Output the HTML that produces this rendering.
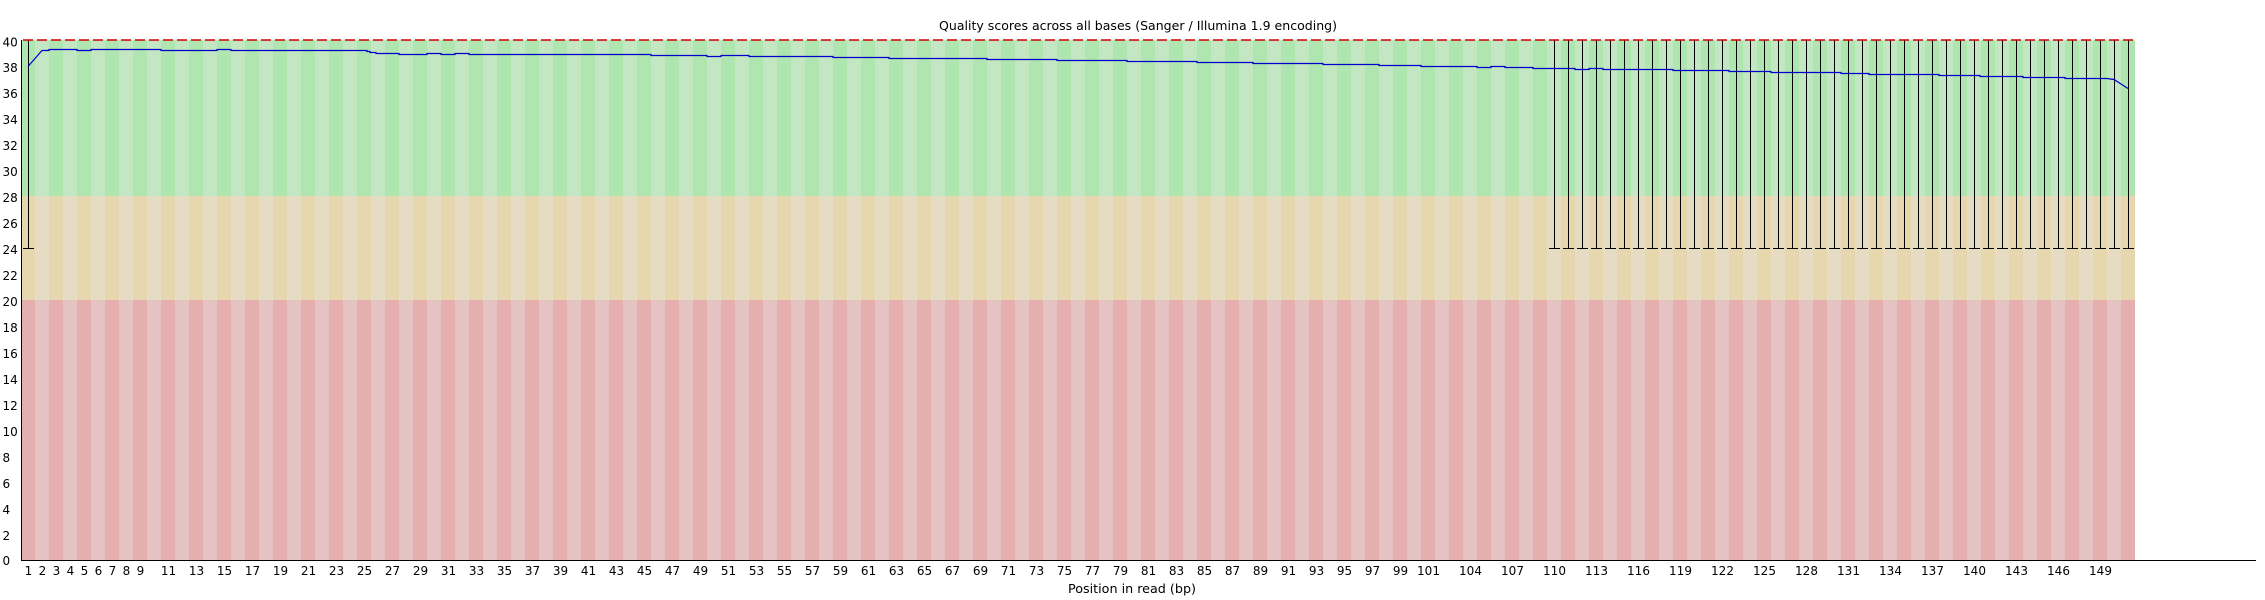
<!DOCTYPE html>
<html>
<head>
<meta charset="utf-8">
<style>
html,body{margin:0;padding:0;background:#fff;}
svg{display:block;}
text{font-family:"DejaVu Sans","Liberation Sans",sans-serif;fill:#000;}
</style>
</head>
<body>
<svg width="2265" height="600" viewBox="0 0 2265 600" xmlns="http://www.w3.org/2000/svg">
<defs>
<pattern id="pg" x="21" y="0" width="28" height="600" patternUnits="userSpaceOnUse">
<rect x="0" y="0" width="14" height="600" fill="rgb(175,230,175)"/>
<rect x="14" y="0" width="14" height="600" fill="rgb(195,230,195)"/>
</pattern>
<pattern id="po" x="21" y="0" width="28" height="600" patternUnits="userSpaceOnUse">
<rect x="0" y="0" width="14" height="600" fill="rgb(230,215,175)"/>
<rect x="14" y="0" width="14" height="600" fill="rgb(230,220,195)"/>
</pattern>
<pattern id="pr" x="21" y="0" width="28" height="600" patternUnits="userSpaceOnUse">
<rect x="0" y="0" width="14" height="600" fill="rgb(230,175,175)"/>
<rect x="14" y="0" width="14" height="600" fill="rgb(230,195,195)"/>
</pattern>
</defs>
<rect x="0" y="0" width="2265" height="600" fill="#fff"/>
<!-- bands -->
<rect x="21" y="40" width="2114" height="156" fill="url(#pg)"/>
<rect x="21" y="196" width="2114" height="104" fill="url(#po)"/>
<rect x="21" y="300" width="2114" height="260" fill="url(#pr)"/>

<!-- title -->
<text x="1138" y="30" font-size="12.5" text-anchor="middle" textLength="398" lengthAdjust="spacingAndGlyphs">Quality scores across all bases (Sanger / Illumina 1.9 encoding)</text>

<!-- error bars -->
<path fill="none" stroke="#000" stroke-width="1" d="
M28.5 40V248M23 248.5H34
M1554.5 40V248M1549 248.5H1560
M1568.5 40V248M1563 248.5H1574
M1582.5 40V248M1577 248.5H1588
M1596.5 40V248M1591 248.5H1602
M1610.5 40V248M1605 248.5H1616
M1624.5 40V248M1619 248.5H1630
M1638.5 40V248M1633 248.5H1644
M1652.5 40V248M1647 248.5H1658
M1666.5 40V248M1661 248.5H1672
M1680.5 40V248M1675 248.5H1686
M1694.5 40V248M1689 248.5H1700
M1708.5 40V248M1703 248.5H1714
M1722.5 40V248M1717 248.5H1728
M1736.5 40V248M1731 248.5H1742
M1750.5 40V248M1745 248.5H1756
M1764.5 40V248M1759 248.5H1770
M1778.5 40V248M1773 248.5H1784
M1792.5 40V248M1787 248.5H1798
M1806.5 40V248M1801 248.5H1812
M1820.5 40V248M1815 248.5H1826
M1834.5 40V248M1829 248.5H1840
M1848.5 40V248M1843 248.5H1854
M1862.5 40V248M1857 248.5H1868
M1876.5 40V248M1871 248.5H1882
M1890.5 40V248M1885 248.5H1896
M1904.5 40V248M1899 248.5H1910
M1918.5 40V248M1913 248.5H1924
M1932.5 40V248M1927 248.5H1938
M1946.5 40V248M1941 248.5H1952
M1960.5 40V248M1955 248.5H1966
M1974.5 40V248M1969 248.5H1980
M1988.5 40V248M1983 248.5H1994
M2002.5 40V248M1997 248.5H2008
M2016.5 40V248M2011 248.5H2022
M2030.5 40V248M2025 248.5H2036
M2044.5 40V248M2039 248.5H2050
M2058.5 40V248M2053 248.5H2064
M2072.5 40V248M2067 248.5H2078
M2086.5 40V248M2081 248.5H2092
M2100.5 40V248M2095 248.5H2106
M2114.5 40V248M2109 248.5H2120
M2128.5 40V248M2123 248.5H2134
"/>

<!-- red dashed top line -->
<line x1="23" y1="40" x2="2135" y2="40" stroke="rgb(210,0,0)" stroke-width="1.6" stroke-dasharray="10 4"/>

<!-- mean line -->
<path fill="none" stroke="rgb(0,0,205)" stroke-width="1.2" d="M28 66.5 L42 50.5 H49 V49.5 H77 V50.5 H91 V49.5 H161 V50.5 H217 V49.5 H231 V50.5 H367 V51.5 H370 V52.5 H376 V53.5 H399 V54.5 H427 V53.5 H441 V54.5 H455 V53.5 H469 V54.5 H651 V55.5 H707 V56.5 H721 V55.5 H749 V56.5 H833 V57.5 H889 V58.5 H987 V59.5 H1057 V60.5 H1127 V61.5 H1197 V62.5 H1253 V63.5 H1323 V64.5 H1379 V65.5 H1421 V66.5 H1477 V67.5 H1491 V66.5 H1505 V67.5 H1533 V68.5 H1575 V69.5 H1589 V68.5 H1603 V69.5 H1673 V70.5 H1729 V71.5 H1771 V72.5 H1841 V73.5 H1869 V74.5 H1939 V75.5 H1980 V76.5 H2023 V77.5 H2065 V78.5 H2107 L2114 79.5 L2128 88.5"/>

<!-- axes -->
<line x1="21.5" y1="40" x2="21.5" y2="561" stroke="#000" stroke-width="1"/>
<line x1="21" y1="560.5" x2="2256" y2="560.5" stroke="#000" stroke-width="1"/>

<!-- y labels -->
<g font-size="12">
<text x="2.5" y="46.5">40</text>
<text x="2.5" y="72">38</text>
<text x="2.5" y="98">36</text>
<text x="2.5" y="124">34</text>
<text x="2.5" y="150">32</text>
<text x="2.5" y="176">30</text>
<text x="2.5" y="202">28</text>
<text x="2.5" y="228">26</text>
<text x="2.5" y="254">24</text>
<text x="2.5" y="280">22</text>
<text x="2.5" y="306">20</text>
<text x="2.5" y="332">18</text>
<text x="2.5" y="358">16</text>
<text x="2.5" y="384">14</text>
<text x="2.5" y="410">12</text>
<text x="2.5" y="436">10</text>
<text x="2.5" y="462">8</text>
<text x="2.5" y="488">6</text>
<text x="2.5" y="514">4</text>
<text x="2.5" y="540">2</text>
<text x="2.5" y="565">0</text>
</g>

<!-- x labels -->
<g font-size="12" text-anchor="middle">
<text x="28.5" y="575">1</text>
<text x="42.5" y="575">2</text>
<text x="56.5" y="575">3</text>
<text x="70.5" y="575">4</text>
<text x="84.5" y="575">5</text>
<text x="98.5" y="575">6</text>
<text x="112.5" y="575">7</text>
<text x="126.5" y="575">8</text>
<text x="140.5" y="575">9</text>
<text x="168.5" y="575">11</text>
<text x="196.5" y="575">13</text>
<text x="224.5" y="575">15</text>
<text x="252.5" y="575">17</text>
<text x="280.5" y="575">19</text>
<text x="308.5" y="575">21</text>
<text x="336.5" y="575">23</text>
<text x="364.5" y="575">25</text>
<text x="392.5" y="575">27</text>
<text x="420.5" y="575">29</text>
<text x="448.5" y="575">31</text>
<text x="476.5" y="575">33</text>
<text x="504.5" y="575">35</text>
<text x="532.5" y="575">37</text>
<text x="560.5" y="575">39</text>
<text x="588.5" y="575">41</text>
<text x="616.5" y="575">43</text>
<text x="644.5" y="575">45</text>
<text x="672.5" y="575">47</text>
<text x="700.5" y="575">49</text>
<text x="728.5" y="575">51</text>
<text x="756.5" y="575">53</text>
<text x="784.5" y="575">55</text>
<text x="812.5" y="575">57</text>
<text x="840.5" y="575">59</text>
<text x="868.5" y="575">61</text>
<text x="896.5" y="575">63</text>
<text x="924.5" y="575">65</text>
<text x="952.5" y="575">67</text>
<text x="980.5" y="575">69</text>
<text x="1008.5" y="575">71</text>
<text x="1036.5" y="575">73</text>
<text x="1064.5" y="575">75</text>
<text x="1092.5" y="575">77</text>
<text x="1120.5" y="575">79</text>
<text x="1148.5" y="575">81</text>
<text x="1176.5" y="575">83</text>
<text x="1204.5" y="575">85</text>
<text x="1232.5" y="575">87</text>
<text x="1260.5" y="575">89</text>
<text x="1288.5" y="575">91</text>
<text x="1316.5" y="575">93</text>
<text x="1344.5" y="575">95</text>
<text x="1372.5" y="575">97</text>
<text x="1400.5" y="575">99</text>
<text x="1428.5" y="575">101</text>
<text x="1470.5" y="575">104</text>
<text x="1512.5" y="575">107</text>
<text x="1554.5" y="575">110</text>
<text x="1596.5" y="575">113</text>
<text x="1638.5" y="575">116</text>
<text x="1680.5" y="575">119</text>
<text x="1722.5" y="575">122</text>
<text x="1764.5" y="575">125</text>
<text x="1806.5" y="575">128</text>
<text x="1848.5" y="575">131</text>
<text x="1890.5" y="575">134</text>
<text x="1932.5" y="575">137</text>
<text x="1974.5" y="575">140</text>
<text x="2016.5" y="575">143</text>
<text x="2058.5" y="575">146</text>
<text x="2100.5" y="575">149</text>
</g>

<!-- x axis title -->
<text x="1132" y="593" font-size="12.5" text-anchor="middle" textLength="128" lengthAdjust="spacingAndGlyphs">Position in read (bp)</text>
</svg>
</body>
</html>
